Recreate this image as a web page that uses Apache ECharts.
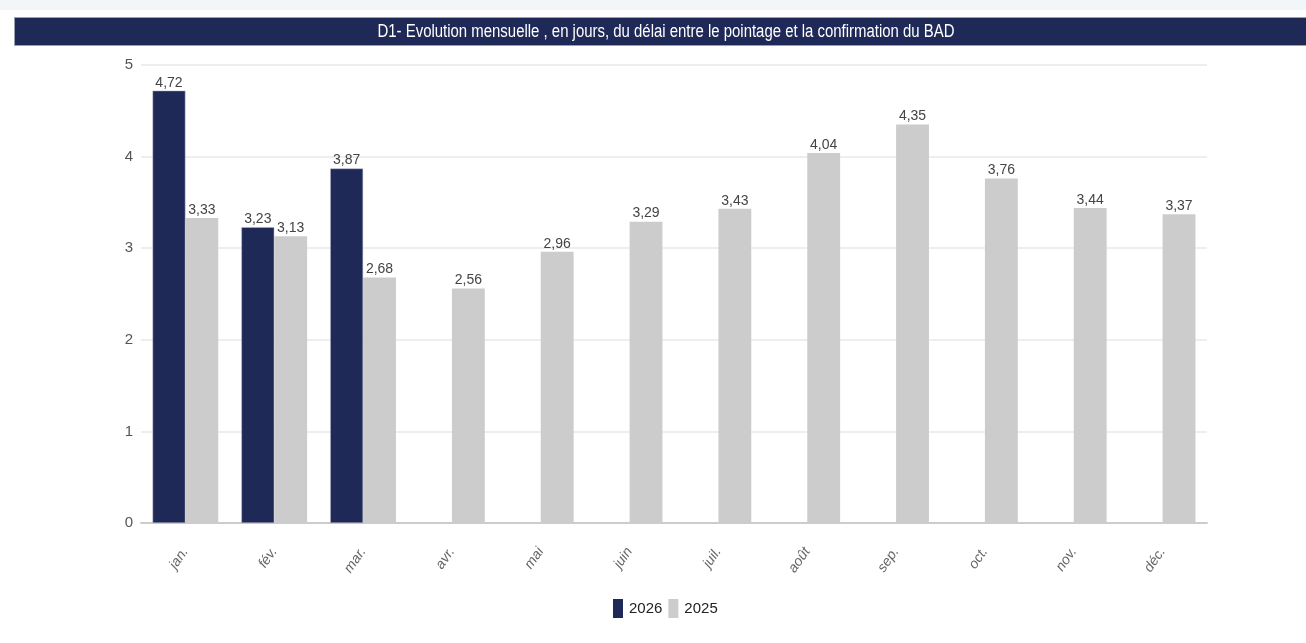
<!DOCTYPE html>
<html><head><meta charset="utf-8">
<script src="https://cdn.jsdelivr.net/npm/echarts@6/dist/echarts.min.js"></script>
<style>
html,body{margin:0;padding:0;background:#fff;}
#strip{position:absolute;left:0;top:0;width:1306px;height:10px;background:#f3f6f9;}
#c{position:absolute;left:0;top:0;width:1306px;height:643px;}
</style></head>
<body><div id="strip"></div><div id="c"></div>
<script>
const categories = ['janv.','févr.','mars','avr.','mai','juin','juil.','août','sept.','oct.','nov.','déc.'];
const monthLabels = ['jan.','fév.','mar.','avr.','mai','juin','juil.','août','sep.','oct.','nov.','déc.'];
const series2026 = [4.72, 3.23, 3.87, null, null, null, null, null, null, null, null, null];
const series2025 = [3.33, 3.13, 2.68, 2.56, 2.96, 3.29, 3.43, 4.04, 4.35, 3.76, 3.44, 3.37];
const yTicks = [0, 1, 2, 3, 4, 5];
const titleText = 'D1- Evolution mensuelle , en jours, du délai entre le pointage et la confirmation du BAD';

const FONT = '"Liberation Sans", Arial, sans-serif';
const titleFont = '18px "Liberation Sans", Arial, sans-serif';
const mctx = document.createElement('canvas').getContext('2d');
mctx.font = titleFont;
const titleScale = 577 / mctx.measureText(titleText).width;

const chart = echarts.init(document.getElementById('c'), null, {renderer:'canvas'});
const lbl = {
  show: true, position: 'top', distance: 1,
  color: '#444', fontFamily: FONT, fontSize: 14,
  formatter: p => (p.value == null ? '' : String(p.value.toFixed(2)).replace('.', ','))
};
chart.setOption({
  animation: false,
  graphic: [{
    type: 'rect', left: 14, top: 17, z: 0,
    shape: {width: 1292, height: 28},
    style: {fill: '#1f2957', stroke: '#9aa0b4', lineWidth: 1}
  }, {
    type: 'text', x: 666, y: 32, z: 1, scaleX: titleScale,
    style: {text: titleText, font: titleFont, fill: '#ffffff', align: 'center', verticalAlign: 'middle'}
  }],
  legend: {
    data: ['2026', '2025'], left: 613, top: 599, padding: 0,
    itemWidth: 10, itemHeight: 19, itemGap: 6, icon: 'rect',
    itemStyle: {borderWidth: 0},
    textStyle: {color: '#222', fontFamily: FONT, fontSize: 15, padding: [0,0,0,1]}
  },
  grid: {left: 141, right: 99, top: 65, bottom: 120},
  xAxis: {
    type: 'category', data: categories,
    axisTick: {show: false},
    axisLine: {lineStyle: {color: '#cccccc', width: 2}},
    axisLabel: {
      formatter: (v, i) => monthLabels[i],
      rotate: 55, margin: 26, color: '#666', fontStyle: 'italic',
      fontFamily: FONT, fontSize: 14
    }
  },
  yAxis: {
    type: 'value', min: yTicks[0], max: yTicks[yTicks.length-1], interval: 1,
    axisLine: {show: false}, axisTick: {show: false},
    axisLabel: {color: '#555', fontFamily: FONT, fontSize: 15, margin: 8},
    splitLine: {lineStyle: {color: '#eeeeee', width: 2}}
  },
  series: [
    {name: '2026', type: 'bar', data: series2026, barGap: '0%', barCategoryGap: '26%',
     itemStyle: {color: '#1f2957', borderColor: '#b9bdcc', borderWidth: 0.5}, label: lbl},
    {name: '2025', type: 'bar', data: series2025,
     itemStyle: {color: '#cccccc'}, label: lbl}
  ]
});
</script></body></html>
